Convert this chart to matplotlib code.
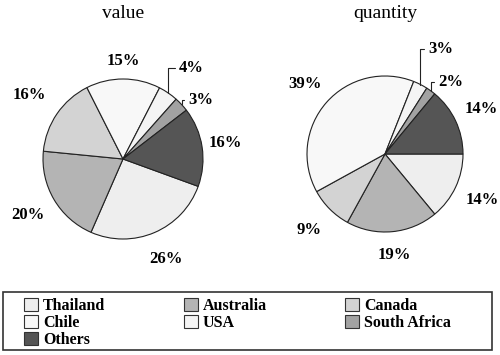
import numpy as np
import matplotlib
matplotlib.use("Agg")
import matplotlib.pyplot as plt
from matplotlib.patches import Patch, Rectangle

countries = ["Thailand", "Australia", "Canada", "Chile", "USA", "South Africa", "Others"]
value_pct = [26, 20, 16, 15, 4, 3, 16]
quantity_pct = [14, 19, 9, 39, 3, 2, 14]
colors = ["#eeeeee", "#b4b4b4", "#d3d3d3", "#f8f8f8", "#f4f4f4", "#a2a2a2", "#555555"]

plt.rcParams["font.family"] = ["Liberation Serif", "DejaVu Serif"]

fig = plt.figure(figsize=(5, 3.55), dpi=100)


def draw_pie(rect, vals, start, dist, leaders, title):
    ax = fig.add_axes(rect)
    wedges, _ = ax.pie(vals, colors=colors, startangle=start, counterclock=False,
                       wedgeprops=dict(edgecolor="#222222", linewidth=0.8))
    for i, w in enumerate(wedges):
        mid = np.deg2rad((w.theta1 + w.theta2) / 2)
        txt = "%d%%" % vals[i]
        if i in leaders:
            tx, ty = leaders[i]
            ax.annotate(txt, xy=(np.cos(mid), np.sin(mid)), xytext=(tx, ty),
                        ha="left", va="center", fontsize=12, fontweight="bold",
                        arrowprops=dict(arrowstyle="-", lw=0.8, color="#222222",
                                        shrinkA=1, shrinkB=0,
                                        connectionstyle="angle,angleA=180,angleB=90,rad=0"))
        else:
            d = dist[i]
            ax.text(d * np.cos(mid), d * np.sin(mid), txt, ha="center", va="center",
                    fontsize=12, fontweight="bold")
    ax.set_xlim(-1.5, 1.5)
    ax.set_ylim(-1.5, 1.5)
    ax.set_aspect("equal")
    ax.axis("off")
    cx = rect[0] + rect[2] / 2
    fig.text(cx, 0.962, title, ha="center", va="center", fontsize=14)
    return wedges


draw_pie([3 / 500, 76 / 355, 240 / 500, 240 / 355], value_pct, -20,
         [1.36, 1.38, 1.42, 1.22, 1.2, 1.2, 1.3],
         {4: (0.7, 1.14), 5: (0.82, 0.74)}, "value")
draw_pie([268 / 500, 84 / 355, 234 / 500, 234 / 355], quantity_pct, 0,
         [1.38, 1.3, 1.38, 1.36, 1.2, 1.2, 1.36],
         {4: (0.55, 1.35), 5: (0.68, 0.92)}, "quantity")

# legend frame
fig.patches.append(Rectangle((3 / 500, 5 / 355), 489 / 500, 58 / 355,
                             transform=fig.transFigure, fill=False,
                             edgecolor="#333333", linewidth=1.2))

# legend in row-major order
order = [0, 3, 6, 1, 4, 2, 5]
handles = [Patch(facecolor=colors[i], edgecolor="#333333", linewidth=0.8) for i in order]
labels = [countries[i] for i in order]
leg = fig.legend(handles, labels, ncol=3, loc="lower left",
                 bbox_to_anchor=(24 / 500, 7 / 355, 427 / 500, 54 / 355), mode="expand",
                 prop=dict(weight="bold", size=11.5), frameon=False,
                 handlelength=0.9, handleheight=0.9, handletextpad=0.3,
                 labelspacing=0.05, borderpad=0.0, columnspacing=1.0,
                 borderaxespad=0)

fig.savefig("out.png", dpi=100)
